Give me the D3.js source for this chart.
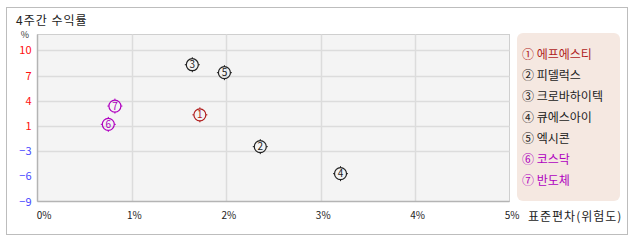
<!DOCTYPE html>
<html>
<head>
<meta charset="utf-8">
<script src="https://d3js.org/d3.v7.min.js"></script>
<style>
  body { margin: 0; background: #fff; }
  text { font-family: "Noto Sans CJK KR", "Noto Sans", sans-serif; }
</style>
</head>
<body>
<div id="chart"></div>
<script>
// 종목별 4주간 수익률 vs 표준편차
var names   = ["에프에스티", "피델럭스", "크로바하이텍", "큐에스아이", "엑시콘", "코스닥", "반도체"];
var marks   = ["①", "②", "③", "④", "⑤", "⑥", "⑦"];
var stdDev  = [1.72, 2.36, 1.64, 3.21, 1.98, 0.75, 0.82];   // x, %
var returns = [1.9, -2.1, 8.2, -5.5, 7.2, 0.7, 3.0];        // y, %
var colors  = ["#b01c1c", "#222", "#222", "#222", "#222", "#b000c0", "#b000c0"];
var xTicks  = [0, 1, 2, 3, 4, 5];

var width = 638, height = 242;
var plot = { left: 37.5, right: 509.5, top: 34.5, bottom: 201.5 };

var svg = d3.select("#chart").append("svg")
    .attr("width", width)
    .attr("height", height);

// outer frame
svg.append("rect")
    .attr("x", 6.5).attr("y", 7.5)
    .attr("width", 621).attr("height", 227)
    .attr("fill", "#fff").attr("stroke", "#bdbdbd");

svg.append("text")
    .attr("x", 16).attr("y", 25)
    .attr("font-size", 12).attr("fill", "#222")
    .attr("letter-spacing", 1)
    .text("4주간 수익률");

var x = d3.scaleLinear().domain([0, 5]).range([plot.left, plot.right]);
var y = d3.scaleLinear().domain([-9, 12]).range([plot.bottom, plot.top]);
var yTickVals = d3.range(7).map(function(i) { return -9 + i * 19 / 6; });

// plot background
svg.append("rect")
    .attr("x", plot.left).attr("y", plot.top)
    .attr("width", plot.right - plot.left).attr("height", plot.bottom - plot.top)
    .attr("fill", "#f4f4f4").attr("stroke", "#cfcfcf");

// grid
svg.append("g").selectAll("line")
    .data(yTickVals.filter(function(d, i) { return i > 1; }))
  .enter().append("line")
    .attr("x1", plot.left).attr("x2", plot.right)
    .attr("y1", function(d) { return Math.round(y(d)) + 0.5; })
    .attr("y2", function(d) { return Math.round(y(d)) + 0.5; })
    .attr("stroke", "#dcdcdc").attr("stroke-width", 1.5);

svg.append("g").selectAll("line")
    .data(xTicks.slice(1, -1))
  .enter().append("line")
    .attr("x1", function(d) { return Math.round(x(d)) + 0.5; })
    .attr("x2", function(d) { return Math.round(x(d)) + 0.5; })
    .attr("y1", plot.top).attr("y2", plot.bottom)
    .attr("stroke", "#dcdcdc").attr("stroke-width", 1.5);

// axis lines
svg.append("line")
    .attr("x1", plot.left).attr("x2", plot.left)
    .attr("y1", plot.top).attr("y2", plot.bottom)
    .attr("stroke", "#b4b4b4").attr("stroke-width", 1.5);
svg.append("line")
    .attr("x1", plot.left).attr("x2", plot.right)
    .attr("y1", plot.bottom).attr("y2", plot.bottom)
    .attr("stroke", "#b4b4b4").attr("stroke-width", 1.5);

// y axis labels
var yAxis = d3.axisLeft(y)
    .tickValues(yTickVals)
    .tickSize(0).tickPadding(6)
    .tickFormat(function(d) { return Math.round(d); });
var gy = svg.append("g")
    .attr("transform", "translate(" + plot.left + ",0)")
    .call(yAxis);
gy.select(".domain").remove();
gy.selectAll("text")
    .attr("font-size", 11)
    .attr("font-family", "\"DejaVu Sans\", sans-serif")
    .attr("fill", function(d) { return Math.round(d) > 0 ? "#ff1010" : "#4a4aff"; })
    .text(function(d) { return Math.round(d) < 0 ? "\u2212" + Math.abs(Math.round(d)) : Math.round(d); });

svg.append("text")
    .attr("x", 25).attr("y", 38)
    .attr("text-anchor", "middle")
    .attr("font-size", 9).attr("fill", "#333")
    .text("%");

// x axis labels
var xAxis = d3.axisBottom(x)
    .tickValues(xTicks)
    .tickSize(0).tickPadding(10)
    .tickFormat(function(d) { return d + "%"; });
var gx = svg.append("g")
    .attr("transform", "translate(2," + plot.bottom + ")")
    .call(xAxis);
gx.select(".domain").remove();
gx.selectAll("text")
    .attr("font-size", 10)
    .attr("fill", "#222")
    .attr("dx", function(d) { return d === 0 ? 4 : 0; });

svg.append("text")
    .attr("x", 528).attr("y", 221)
    .attr("font-size", 12).attr("fill", "#222")
    .attr("letter-spacing", 1)
    .text("표준편차(위험도)");

// points
var pts = svg.append("g").selectAll("g")
    .data(d3.range(names.length))
  .enter().append("g")
    .attr("transform", function(i) { return "translate(" + x(stdDev[i]) + "," + y(returns[i]) + ")"; });

pts.append("circle")
    .attr("r", 6)
    .attr("fill", "none")
    .attr("stroke", function(i) { return colors[i]; })
    .attr("stroke-width", 1.2);

pts.selectAll("line")
    .data(function(i) { return [[0, -6, 0, -7.5, i], [0, 6, 0, 7.5, i], [-6, 0, -7.5, 0, i], [6, 0, 7.5, 0, i]]; })
  .enter().append("line")
    .attr("x1", function(d) { return d[0]; }).attr("y1", function(d) { return d[1]; })
    .attr("x2", function(d) { return d[2]; }).attr("y2", function(d) { return d[3]; })
    .attr("stroke", function(d) { return colors[d[4]]; })
    .attr("stroke-width", 1);

pts.append("text")
    .attr("text-anchor", "middle")
    .attr("dy", "0.36em")
    .attr("font-size", 10)
    .attr("font-family", "\"DejaVu Sans\", sans-serif")
    .attr("fill", function(i) { return colors[i]; })
    .text(function(i) { return i + 1; });

// legend
svg.append("rect")
    .attr("x", 517).attr("y", 33)
    .attr("width", 103).attr("height", 168)
    .attr("rx", 6)
    .attr("fill", "#f5e8e1");

svg.append("g").selectAll("text")
    .data(d3.range(names.length))
  .enter().append("text")
    .attr("x", 522)
    .attr("y", function(i) { return 59 + i * 21; })
    .attr("font-size", 12)
    .attr("fill", function(i) { return colors[i]; })
    .text(function(i) { return marks[i] + " " + names[i]; });
</script>
</body>
</html>
